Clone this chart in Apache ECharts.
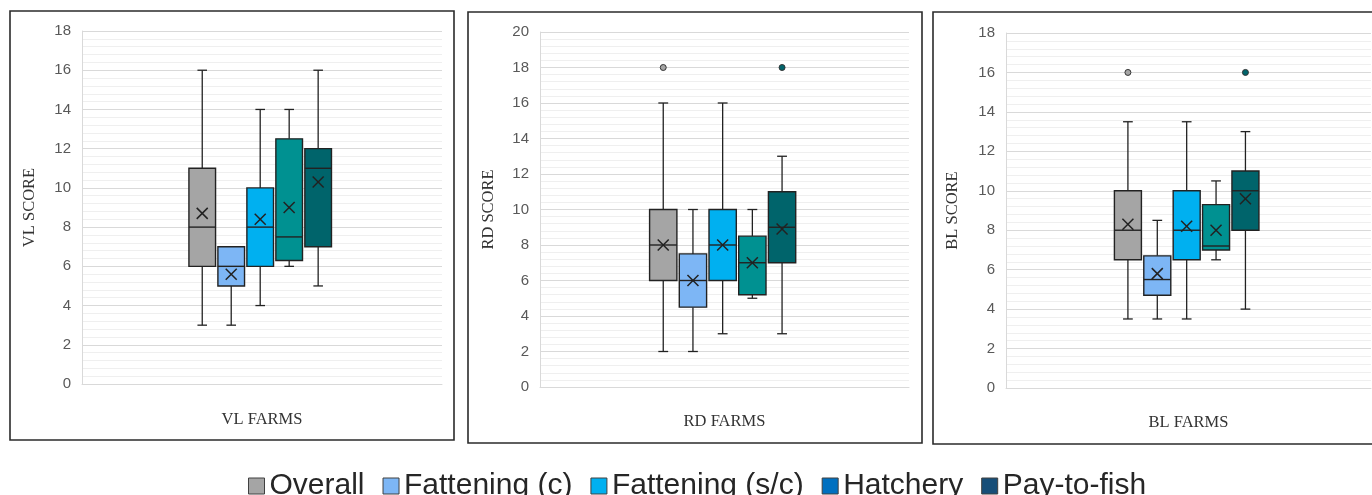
<!DOCTYPE html>
<html>
<head>
<meta charset="utf-8">
<script src="https://cdn.jsdelivr.net/npm/echarts@6/dist/echarts.min.js"></script>
<style>html,body{margin:0;padding:0;background:#fff;}#c{width:1372px;height:495px;}</style>
</head>
<body>
<div id="c"></div>
<script>
// ---- data ----
const seriesNames = ['Overall', 'Fattening (c)', 'Fattening (s/c)', 'Hatchery', 'Pay-to-fish'];
const panelFarms = ['VL FARMS', 'RD FARMS', 'BL FARMS'];
const panelScores = ['VL SCORE', 'RD SCORE', 'BL SCORE'];
const yMaxes = [18, 20, 18];
// [min, Q1, median, Q3, max, mean]
const vlStats = [
  [3, 6, 8, 11, 16, 8.7],
  [3, 5, 6, 7, 7, 5.6],
  [4, 6, 8, 10, 14, 8.4],
  [6, 6.3, 7.5, 12.5, 14, 9.0],
  [5, 7, 11, 12, 16, 10.3]
];
const rdStats = [
  [2, 6, 8, 10, 16, 8.0],
  [2, 4.5, 6, 7.5, 10, 6.0],
  [3, 6, 8, 10, 16, 8.0],
  [5, 5.2, 7, 8.5, 10, 7.0],
  [3, 7, 9, 11, 13, 8.9]
];
const blStats = [
  [3.5, 6.5, 8, 10, 13.5, 8.3],
  [3.5, 4.7, 5.5, 6.7, 8.5, 5.8],
  [3.5, 6.5, 8, 10, 13.5, 8.2],
  [6.5, 7, 7.2, 9.3, 10.5, 8.0],
  [4, 8, 10, 11, 13, 9.6]
];
const vlOutliers = [[], [], [], [], []];
const rdOutliers = [[18], [], [], [], [18]];
const blOutliers = [[16], [], [], [], [16]];

const boxColors = ['#A5A5A5', '#7DB6F5', '#00B0F0', '#009191', '#00646B'];
const legendColors = ['#A5A5A5', '#7DB6F5', '#00B0F0', '#0070C0', '#174E78'];

const allStats = [vlStats, rdStats, blStats];
const allOutliers = [vlOutliers, rdOutliers, blOutliers];

// ---- layout ----
const grids = [
  {left: 82, top: 31, width: 360, height: 353},
  {left: 540, top: 32, width: 369, height: 355},
  {left: 1006, top: 33, width: 365, height: 355}
];
const frames = [
  {x: 10, y: 11, width: 444, height: 429},
  {x: 468, y: 12, width: 454, height: 431},
  {x: 933, y: 12, width: 450, height: 432}
];
const yNameGaps = [44, 43, 45];
const xNameGaps = [27, 26, 26];

const STROKE = '#222';

function makeRender(s, outliers, color) {
  return function (params, api) {
    const band = api.size([1, 0])[0];
    const cx = api.coord([0, 0])[0] + (s - 2) * 0.0805 * band - 0.005 * band;
    const w = 0.074 * band;
    const cap = w * 0.36;
    const y = i => api.coord([0, api.value(i)])[1];
    const yMin = y(1), yQ1 = y(2), yMed = y(3), yQ3 = y(4), yMax = y(5), yMean = y(6);
    const ls = {stroke: STROKE, lineWidth: 1.3};
    const children = [];
    children.push({type: 'line', shape: {x1: cx, y1: yQ3, x2: cx, y2: yMax}, style: ls});
    children.push({type: 'line', shape: {x1: cx, y1: yQ1, x2: cx, y2: yMin}, style: ls});
    if (Math.abs(yMax - yQ3) > 0.5) children.push({type: 'line', shape: {x1: cx - cap / 2, y1: yMax, x2: cx + cap / 2, y2: yMax}, style: ls});
    if (Math.abs(yMin - yQ1) > 0.5 || true) children.push({type: 'line', shape: {x1: cx - cap / 2, y1: yMin, x2: cx + cap / 2, y2: yMin}, style: ls});
    children.push({type: 'rect', shape: {x: cx - w / 2, y: yQ3, width: w, height: yQ1 - yQ3},
      style: {fill: color, stroke: STROKE, lineWidth: 1.4}});
    children.push({type: 'line', shape: {x1: cx - w / 2, y1: yMed, x2: cx + w / 2, y2: yMed}, style: {stroke: STROKE, lineWidth: 1.4}});
    const m = 5.5;
    children.push({type: 'line', shape: {x1: cx - m, y1: yMean - m, x2: cx + m, y2: yMean + m}, style: {stroke: STROKE, lineWidth: 1.5}});
    children.push({type: 'line', shape: {x1: cx - m, y1: yMean + m, x2: cx + m, y2: yMean - m}, style: {stroke: STROKE, lineWidth: 1.5}});
    outliers.forEach(v => {
      const oy = api.coord([0, v])[1];
      children.push({type: 'circle', shape: {cx: cx, cy: oy, r: 3}, style: {fill: color, stroke: '#333', lineWidth: 1}});
    });
    return {type: 'group', children: children};
  };
}

const xAxes = [], yAxes = [], series = [];
for (let p = 0; p < 3; p++) {
  xAxes.push({
    type: 'category', gridIndex: p, data: [panelFarms[p]],
    name: panelFarms[p], nameLocation: 'middle', nameGap: xNameGaps[p],
    nameTextStyle: {fontFamily: 'Liberation Serif', fontSize: 16.5, color: '#333'},
    axisLine: {show: true, lineStyle: {color: '#D9D9D9'}},
    axisTick: {show: false}, axisLabel: {show: false}, splitLine: {show: false}
  });
  yAxes.push({
    type: 'value', gridIndex: p, min: 0, max: yMaxes[p], interval: 2,
    name: panelScores[p], nameLocation: 'middle', nameGap: yNameGaps[p],
    nameTextStyle: {fontFamily: 'Liberation Serif', fontSize: 16.5, color: '#333'},
    axisLine: {show: true, lineStyle: {color: '#D9D9D9'}},
    axisTick: {show: false},
    axisLabel: {fontFamily: 'Liberation Sans', fontSize: 15, color: '#595959', margin: 11},
    splitLine: {show: true, lineStyle: {color: '#D9D9D9', width: 1}},
    minorTick: {show: false, splitNumber: 5},
    minorSplitLine: {show: true, lineStyle: {color: '#EFEFEF', width: 1}}
  });
  for (let s = 0; s < 5; s++) {
    series.push({
      type: 'custom', name: seriesNames[s], xAxisIndex: p, yAxisIndex: p,
      itemStyle: {color: boxColors[s]},
      data: [[0].concat(allStats[p][s])],
      renderItem: makeRender(s, allOutliers[p][s], boxColors[s]),
      silent: true, animation: false
    });
  }
}

const option = {
  animation: false,
  grid: grids,
  xAxis: xAxes,
  yAxis: yAxes,
  legend: {
    left: 243, top: 466, icon: 'rect', itemWidth: 16, itemHeight: 16, itemGap: 18,
    selectedMode: false,
    textStyle: {fontFamily: 'Liberation Sans', fontSize: 30, color: '#262626'},
    itemStyle: {borderColor: '#404040', borderWidth: 1},
    data: seriesNames.map((n, i) => ({name: n, itemStyle: {color: legendColors[i], borderColor: '#404040', borderWidth: 1}}))
  },
  graphic: frames.map(f => ({
    type: 'rect', shape: f, silent: true, z: 100,
    style: {fill: 'none', stroke: '#2b2b2b', lineWidth: 1.6}
  })),
  series: series
};
const chart = echarts.init(document.getElementById('c'), null, {renderer: 'canvas'});
chart.setOption(option);
</script>
</body>
</html>
